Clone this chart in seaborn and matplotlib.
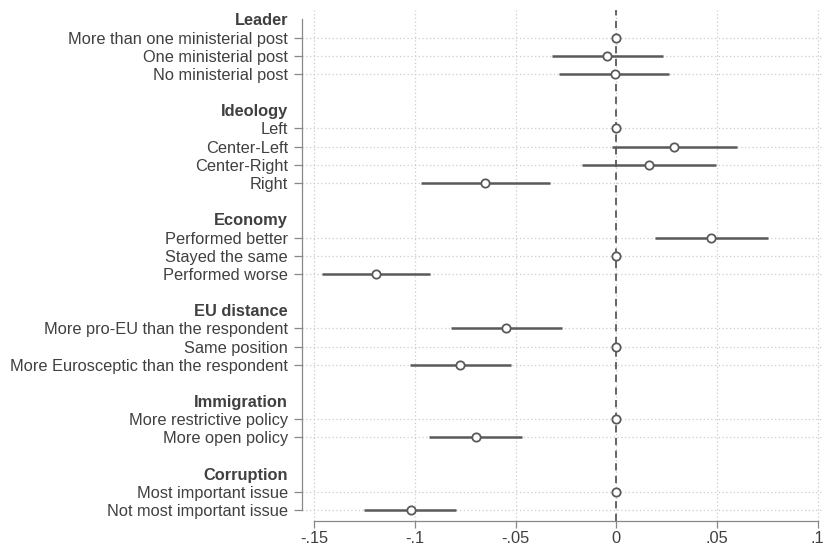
import numpy as np
import pandas as pd
import matplotlib
matplotlib.use("Agg")
import matplotlib.pyplot as plt
import seaborn as sns

# ---- data ----
groups = ["Leader", "Ideology", "Economy", "EU distance", "Immigration", "Corruption"]
leader_labels = ["More than one ministerial post", "One ministerial post", "No ministerial post"]
leader_est = [0.0, -0.0045, -0.0008]
leader_lo = [np.nan, -0.032, -0.0286]
leader_hi = [np.nan, 0.023, 0.0264]

ideology_labels = ["Left", "Center-Left", "Center-Right", "Right"]
ideology_est = [0.0, 0.0289, 0.0162, -0.0652]
ideology_lo = [np.nan, -0.0022, -0.0171, -0.0972]
ideology_hi = [np.nan, 0.0598, 0.0496, -0.0331]

economy_labels = ["Performed better", "Stayed the same", "Performed worse"]
economy_est = [0.0473, 0.0, -0.1192]
economy_lo = [0.0192, np.nan, -0.1463]
economy_hi = [0.0752, np.nan, -0.0926]

eu_labels = ["More pro-EU than the respondent", "Same position", "More Eurosceptic than the respondent"]
eu_est = [-0.0546, 0.0, -0.0774]
eu_lo = [-0.0822, np.nan, -0.1024]
eu_hi = [-0.0268, np.nan, -0.0524]

imm_labels = ["More restrictive policy", "More open policy"]
imm_est = [0.0, -0.0698]
imm_lo = [np.nan, -0.093]
imm_hi = [np.nan, -0.0468]

cor_labels = ["Most important issue", "Not most important issue"]
cor_est = [0.0, -0.1022]
cor_lo = [np.nan, -0.1253]
cor_hi = [np.nan, -0.0794]

xticks = [-0.15, -0.1, -0.05, 0, 0.05, 0.1]
xticklabels = ["-.15", "-.1", "-.05", "0", ".05", ".1"]

blocks = [
    (leader_labels, leader_est, leader_lo, leader_hi),
    (ideology_labels, ideology_est, ideology_lo, ideology_hi),
    (economy_labels, economy_est, economy_lo, economy_hi),
    (eu_labels, eu_est, eu_lo, eu_hi),
    (imm_labels, imm_est, imm_lo, imm_hi),
    (cor_labels, cor_est, cor_lo, cor_hi),
]

# ---- build table ----
rows = []
tick_pos, tick_lab, tick_is_header = [], [], []
pos = 0
for g, (labs, est, lo, hi) in zip(groups, blocks):
    tick_pos.append(pos); tick_lab.append(g); tick_is_header.append(True)
    pos += 1
    for l, e, a, b in zip(labs, est, lo, hi):
        rows.append(dict(label=l, y=pos, est=e, lo=a, hi=b))
        tick_pos.append(pos); tick_lab.append(l); tick_is_header.append(False)
        pos += 1
    pos += 1
df = pd.DataFrame(rows)

# ---- plot ----
sns.set_theme(style="white")
plt.rcParams["font.family"] = ["Liberation Sans", "DejaVu Sans"]
txt = "#404040"
gray = "#5a5a5a"

fig = plt.figure(figsize=(8.26, 5.49), dpi=100)
ax = fig.add_axes([302 / 826, 1 - 521 / 549, (822 - 302) / 826, (521 - 10) / 549])

ax.set_xlim(-0.1561, 0.1022)
ax.set_ylim(27.6, -0.52)

# vertical dotted grid
for xv in xticks:
    ax.axvline(xv, color="#cccccc", lw=0.9, ls=(0, (1, 2)), zorder=0)
# horizontal dotted grid at item rows
for yv in df["y"]:
    ax.axhline(yv, color="#cccccc", lw=0.9, ls=(0, (1, 2)), zorder=0)

ax.axvline(0, color=gray, lw=1.3, ls=(0, (4, 3)), zorder=1)

ci = df.dropna(subset=["lo"])
ax.hlines(ci["y"], ci["lo"], ci["hi"], color=gray, lw=1.8, zorder=2)
sns.scatterplot(data=df, x="est", y="y", ax=ax, marker="o", s=36,
                facecolor="white", edgecolor=gray, linewidth=1.3, zorder=3)

ax.set_xlabel("")
ax.set_ylabel("")
ax.set_yticks(tick_pos)
ax.set_yticklabels(tick_lab)
ax.set_xticks(xticks)
ax.set_xticklabels(xticklabels)
ax.tick_params(axis="y", length=6, width=0.9, color="#888888", pad=4,
               labelsize=11.8, labelcolor=txt, left=True)
ax.tick_params(axis="x", length=5, width=0.9, color="#888888", pad=2.5,
               labelsize=11.8, labelcolor=txt, bottom=True)

for t, hdr in zip(ax.yaxis.get_major_ticks(), tick_is_header):
    if hdr:
        t.tick1line.set_visible(False)
        t.label1.set_fontweight("bold")

for s in ["top", "right"]:
    ax.spines[s].set_visible(False)
ax.spines["left"].set_bounds(0, 27)
ax.spines["bottom"].set_bounds(-0.15, 0.1)
ax.spines["left"].set_color("#888888")
ax.spines["bottom"].set_color("#888888")
ax.spines["left"].set_linewidth(0.9)
ax.spines["bottom"].set_linewidth(0.9)

fig.savefig("out.png", dpi=100, facecolor="white")
